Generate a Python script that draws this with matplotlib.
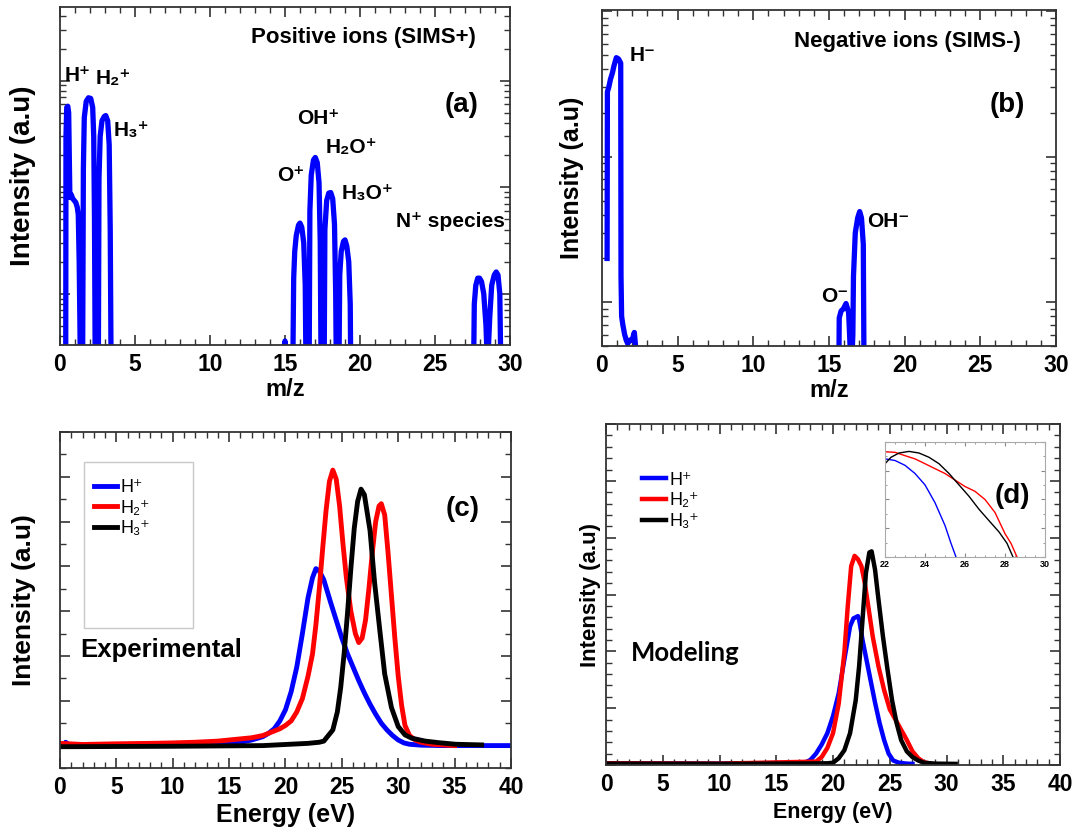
import matplotlib
matplotlib.use("Agg")
import matplotlib.pyplot as plt
from matplotlib.ticker import MultipleLocator, LogLocator, NullFormatter
from matplotlib.patches import Rectangle

plt.rcParams['font.family'] = ['Liberation Sans', 'DejaVu Sans']
plt.rcParams['font.weight'] = 'bold'

# ---- (a) positive ions SIMS+ (log intensity, a.u.)
a_mz = [0.30, 0.38, 0.40, 0.45, 0.52, 0.58, 0.62, 0.66, 0.75, 0.85, 0.95, 1.05, 1.15, 1.22, 1.28, 1.33, 1.38,
        1.50, 1.56, 1.62, 1.75, 1.90, 2.05, 2.18, 2.25, 2.30, 2.36,
        2.55, 2.60, 2.68, 2.80, 2.95, 3.05, 3.18, 3.28, 3.35, 3.42,
        14.9, 15.0, 15.1,
        15.5, 15.58, 15.65, 15.75, 15.9, 16.0, 16.12, 16.25, 16.35, 16.42,
        16.6, 16.66, 16.75, 16.9, 17.02, 17.15, 17.27, 17.35, 17.42,
        17.6, 17.66, 17.78, 17.92, 18.05, 18.18, 18.3, 18.38, 18.44,
        18.58, 18.65, 18.75, 18.9, 19.0, 19.12, 19.25, 19.35, 19.4,
        27.55, 27.62, 27.72, 27.85, 27.97, 28.1, 28.25, 28.4, 28.5,
        28.65, 28.78, 28.95, 29.08, 29.2, 29.32, 29.42, 30.0]
a_int = [1, 1, 300, 560, 575, 500, 200, 80, 85, 78, 75, 72, 65, 55, 20, 5, 1,
         1, 150, 450, 640, 690, 680, 560, 300, 50, 1,
         1, 120, 300, 420, 460, 470, 420, 250, 40, 1,
         1, 3.6, 1,
         1, 14, 25, 35, 44, 46, 42, 30, 12, 1,
         1, 60, 130, 180, 190, 170, 110, 30, 1,
         1, 40, 75, 88, 89, 78, 45, 10, 1,
         1, 15, 25, 31, 32, 28, 20, 8, 1,
         1, 8, 12, 14, 14, 13, 10, 5, 2,
         6, 12, 15, 16, 15, 10, 1, 1]

a_labels = ['H⁺', 'H₂⁺', 'H₃⁺', 'OH⁺', 'H₂O⁺', 'O⁺', 'H₃O⁺', 'N⁺ species']
a_label_x = [0.34, 2.37, 3.56, 15.8, 17.7, 14.5, 18.8, 22.4]
a_label_y = [1000, 930, 303, 390, 208, 115, 77, 42]

# ---- (b) negative ions SIMS-
b_mz = [0.34, 0.36, 0.45, 0.56, 0.70, 0.79, 0.95, 1.10, 1.24, 1.26, 1.30, 1.38, 1.50, 1.60, 1.70, 1.85, 2.00,
        2.14, 2.22, 2.30,
        15.65, 15.68, 15.80, 15.95, 16.13, 16.30, 16.38, 16.47,
        16.58, 16.62, 16.74, 16.90, 17.03, 17.15, 17.27, 17.32, 30.0]
b_int = [20, 280, 300, 340, 380, 420, 480, 470, 440, 15, 8, 7, 6, 5.5, 5.2, 5.5, 5.5,
         6.2, 5, 3,
         3, 7.8, 8.7, 9.0, 9.8, 8.5, 5.5, 3,
         6, 15, 30, 38, 42, 38, 25, 3, 3]

b_labels = ['H⁻', 'OH⁻', 'O⁻']
b_label_x = [1.8, 17.55, 14.5]
b_label_y = [452, 33, 10]

# ---- (c) experimental ion energy distributions
c_h1_e = [0.3, 0.5, 0.8, 1.2, 3, 6, 10, 13, 15, 16, 17, 18, 18.5, 19, 19.5, 20, 20.5, 21, 21.5, 22, 22.4, 22.7,
          23.0, 23.4, 24, 24.5, 25, 25.5, 26, 26.5, 27, 27.5, 28, 28.5, 29, 29.5, 30, 30.5, 31, 32, 34, 37, 40]
c_h1 = [0.0, 0.015, 0.005, 0.0, 0.0, 0.0, 0.003, 0.006, 0.01, 0.015, 0.025, 0.04, 0.055, 0.075, 0.11, 0.16, 0.24,
        0.35, 0.50, 0.66, 0.75, 0.79, 0.78, 0.74, 0.64, 0.56, 0.48, 0.41, 0.35, 0.29, 0.235, 0.185, 0.14, 0.10,
        0.07, 0.045, 0.025, 0.012, 0.006, 0.002, 0.0, 0.0, 0.0]
c_h2_e = [0, 2, 5, 8, 10, 12, 14, 16, 17, 18, 19, 19.5, 20, 20.5, 21, 21.5, 22, 22.4, 22.7, 23.0, 23.3, 23.6, 23.9,
          24.2, 24.5, 24.8, 25.1, 25.4, 25.8, 26.2, 26.5, 26.8, 27.1, 27.4, 27.7, 28.0, 28.3, 28.5, 28.8, 29.1,
          29.4, 29.7, 30.0, 30.3, 30.6, 31, 31.5, 32, 33, 35]
c_h2 = [0.01, 0.005, 0.008, 0.01, 0.012, 0.015, 0.02, 0.03, 0.035, 0.045, 0.065, 0.075, 0.09, 0.11, 0.15, 0.21,
        0.31, 0.41, 0.54, 0.70, 0.88, 1.05, 1.18, 1.23, 1.19, 1.07, 0.90, 0.75, 0.60, 0.50, 0.46, 0.48, 0.56,
        0.70, 0.86, 1.00, 1.07, 1.08, 1.03, 0.86, 0.67, 0.48, 0.31, 0.18, 0.09, 0.045, 0.025, 0.015, 0.006, 0.0]
c_h3_e = [0, 10, 18, 20, 22, 23, 23.4, 24.2, 24.6, 24.9, 25.2, 25.5, 25.8, 26.1, 26.4, 26.7, 27.0, 27.5, 27.9,
          28.4, 28.8, 29.4, 30.0, 30.6, 31.2, 32.4, 33.6, 35.1, 37.4]
c_h3 = [-0.005, -0.003, 0.0, 0.005, 0.01, 0.015, 0.02, 0.07, 0.15, 0.26, 0.41, 0.59, 0.79, 0.97, 1.09, 1.145,
        1.12, 0.96, 0.73, 0.50, 0.32, 0.17, 0.085, 0.048, 0.033, 0.02, 0.013, 0.006, 0.003]

# ---- (d) modeled ion energy distributions
d_h1_e = [0, 10, 17.5, 18, 18.5, 19, 19.5, 20, 20.5, 21, 21.5, 21.8, 22.2, 22.3, 22.6, 22.9, 23.3, 23.7, 24.1,
          24.5, 24.9, 25.3, 25.8, 26.5, 27]
d_h1 = [0.015, 0.012, 0.02, 0.044, 0.10, 0.18, 0.28, 0.43, 0.63, 0.93, 1.22, 1.29, 1.31, 1.28, 1.10, 0.95, 0.75,
        0.55, 0.37, 0.22, 0.10, 0.04, 0.02, 0.012, 0.01]
d_h2_e = [0, 10, 18.5, 19, 19.5, 20, 20.5, 21, 21.3, 21.6, 21.9, 22.2, 22.5, 22.8, 23.1, 23.5, 24, 24.5, 25,
          25.5, 26, 26.5, 27, 27.5, 28, 28.6]
d_h2 = [0.015, 0.012, 0.03, 0.07, 0.15, 0.28, 0.54, 0.99, 1.40, 1.75, 1.84, 1.81, 1.75, 1.60, 1.40, 1.13, 0.87,
        0.66, 0.49, 0.40, 0.31, 0.22, 0.12, 0.06, 0.025, 0.012]
d_h3_e = [0, 10, 19.5, 20, 20.5, 21, 21.5, 22, 22.3, 22.6, 22.9, 23.2, 23.4, 23.7, 24, 24.4, 24.8, 25.2, 25.6,
          26, 26.5, 27, 27.5, 28, 29, 30.8]
d_h3 = [0.012, 0.01, 0.015, 0.02, 0.06, 0.13, 0.28, 0.57, 0.87, 1.28, 1.69, 1.87, 1.88, 1.72, 1.46, 1.13, 0.84,
        0.57, 0.37, 0.22, 0.12, 0.07, 0.04, 0.02, 0.012, 0.01]

# ---- (d) inset, zoom on 22-30 eV
in_h1_e = [22.0, 22.5, 23.0, 23.5, 24.0, 24.5, 25.0, 25.3, 25.55]
in_h1 = [0.853, 0.839, 0.797, 0.726, 0.627, 0.472, 0.274, 0.119, 0.0]
in_h2_e = [22.0, 22.5, 23.0, 23.5, 24.0, 24.5, 25.0, 25.5, 26.0, 26.5, 27.0, 27.5, 28.0, 28.3, 28.6]
in_h2 = [0.915, 0.91, 0.881, 0.853, 0.811, 0.768, 0.726, 0.669, 0.613, 0.571, 0.5, 0.387, 0.203, 0.119, 0.0]
in_h3_e = [22.0, 22.3, 22.7, 23.2, 23.7, 24.2, 24.7, 25.2, 25.7, 26.2, 26.7, 27.2, 27.7, 28.1, 28.4]
in_h3 = [0.811, 0.867, 0.904, 0.918, 0.904, 0.867, 0.811, 0.726, 0.627, 0.528, 0.415, 0.316, 0.218, 0.119, 0.0]

ion_names = ['H⁺', 'H₂⁺', 'H₃⁺']
ion_colors = ['#0000ff', '#ff0000', '#000000']

spine_col = '#333333'


def style_axes(ax, tick_size=16.5):
    for s in ax.spines.values():
        s.set_color(spine_col)
        s.set_linewidth(1.3)
    ax.tick_params(which='both', direction='in', top=True, right=True, colors=spine_col,
                   labelcolor='black', labelsize=tick_size, pad=6)
    ax.tick_params(which='major', length=7, width=1.2)
    ax.tick_params(which='minor', length=4, width=1.0)
    ax.xaxis.set_minor_locator(MultipleLocator(1))
    ax.set_yticklabels([])
    ax.yaxis.set_minor_formatter(NullFormatter())


fig = plt.figure(figsize=(10.73, 8.30), dpi=100)

# (a)
ax_a = fig.add_axes([0.0559, 0.5843, 0.4194, 0.4072])
ax_a.plot(a_mz, a_int, color='#0000ff', lw=3.8)
ax_a.set_yscale('log')
ax_a.set_xlim(0, 30)
ax_a.set_ylim(3.3, 4900)
ax_a.xaxis.set_major_locator(MultipleLocator(5))
ax_a.yaxis.set_major_locator(LogLocator(base=10))
ax_a.yaxis.set_minor_locator(LogLocator(base=10, subs=range(2, 10)))
style_axes(ax_a)
ax_a.set_xlabel('m/z', fontsize=17, fontweight='bold')
ax_a.xaxis.set_label_coords(0.5, -0.098)
ax_a.set_ylabel('Intensity (a.u)', fontsize=20, fontweight='bold')
ax_a.yaxis.set_label_coords(-0.053, 0.5)
for lab, x, y in zip(a_labels, a_label_x, a_label_y):
    ax_a.text(x, y, lab, fontsize=15, fontweight='bold', ha='left', va='baseline')
ax_a.text(0.924, 0.911, 'Positive ions (SIMS+)', transform=ax_a.transAxes, fontsize=16,
          fontweight='bold', ha='right', va='center')
ax_a.text(0.929, 0.71, '(a)', transform=ax_a.transAxes, fontsize=20, fontweight='bold',
          ha='right', va='center')

# (b)
ax_b = fig.add_axes([0.561, 0.5831, 0.4231, 0.4048])
ax_b.plot(b_mz, b_int, color='#0000ff', lw=3.8)
ax_b.set_yscale('log')
ax_b.set_xlim(0, 30)
ax_b.set_ylim(5.0, 1020)
ax_b.xaxis.set_major_locator(MultipleLocator(5))
ax_b.yaxis.set_major_locator(LogLocator(base=10))
ax_b.yaxis.set_minor_locator(LogLocator(base=10, subs=range(2, 10)))
style_axes(ax_b)
ax_b.set_xlabel('m/z', fontsize=17, fontweight='bold')
ax_b.xaxis.set_label_coords(0.5, -0.098)
ax_b.set_ylabel('Intensity (a.u)', fontsize=18, fontweight='bold')
ax_b.yaxis.set_label_coords(-0.040, 0.5)
for lab, x, y in zip(b_labels, b_label_x, b_label_y):
    ax_b.text(x, y, lab, fontsize=15, fontweight='bold', ha='left', va='baseline')
ax_b.text(0.923, 0.905, 'Negative ions (SIMS-)', transform=ax_b.transAxes, fontsize=16,
          fontweight='bold', ha='right', va='center')
ax_b.text(0.932, 0.717, '(b)', transform=ax_b.transAxes, fontsize=20, fontweight='bold',
          ha='right', va='center')

# (c)
ax_c = fig.add_axes([0.0559, 0.0747, 0.4203, 0.4048])
for e, v, name, col in zip([c_h1_e, c_h2_e, c_h3_e], [c_h1, c_h2, c_h3], ion_names, ion_colors):
    ax_c.plot(e, v, color=col, lw=3.5, label=name)
ax_c.set_xlim(0, 40)
ax_c.set_ylim(-0.1, 1.4)
ax_c.xaxis.set_major_locator(MultipleLocator(5))
ax_c.yaxis.set_major_locator(MultipleLocator(0.2))
ax_c.yaxis.set_minor_locator(MultipleLocator(0.1))
style_axes(ax_c)
ax_c.set_xlabel('Energy (eV)', fontsize=18, fontweight='bold')
ax_c.xaxis.set_label_coords(0.5, -0.105)
ax_c.set_ylabel('Intensity (a.u)', fontsize=19, fontweight='bold')
ax_c.yaxis.set_label_coords(-0.053, 0.5)
ax_c.add_patch(Rectangle((0.053, 0.417), 0.242, 0.494, transform=ax_c.transAxes, fill=False,
                         edgecolor='#c8c8c8', lw=1.0))
ax_c.legend(loc='upper left', bbox_to_anchor=(0.075, 0.86), frameon=False,
            handlelength=1.3, handletextpad=0.2, labelspacing=0.2, borderaxespad=0, borderpad=0,
            prop={'weight': 'normal', 'size': 13})
ax_c.text(0.044, 0.351, 'Experimental', transform=ax_c.transAxes, fontsize=18.5, fontweight='bold',
          ha='left', va='center')
ax_c.text(0.931, 0.772, '(c)', transform=ax_c.transAxes, fontsize=20, fontweight='bold',
          ha='right', va='center')

# (d)
ax_d = fig.add_axes([0.5648, 0.0783, 0.4231, 0.4108])
for e, v, name, col in zip([d_h1_e, d_h2_e, d_h3_e], [d_h1, d_h2, d_h3], ion_names, ion_colors):
    ax_d.plot(e, v, color=col, lw=3.2, label=name)
ax_d.set_xlim(0, 40)
ax_d.set_ylim(0, 3.0)
ax_d.xaxis.set_major_locator(MultipleLocator(5))
ax_d.yaxis.set_major_locator(MultipleLocator(0.5))
ax_d.yaxis.set_minor_locator(MultipleLocator(0.1))
style_axes(ax_d)
ax_d.set_xlabel('Energy (eV)', fontsize=15.5, fontweight='bold')
ax_d.xaxis.set_label_coords(0.5, -0.108)
ax_d.set_ylabel('Intensity (a.u)', fontsize=16, fontweight='bold')
ax_d.yaxis.set_label_coords(-0.010, 0.5)
ax_d.legend(loc='upper left', bbox_to_anchor=(0.08, 0.86), frameon=False,
            handlelength=1.3, handletextpad=0.2, labelspacing=0.2, borderaxespad=0, borderpad=0,
            prop={'weight': 'normal', 'size': 13})
ax_d.text(0.055, 0.328, 'Modeling', transform=ax_d.transAxes, fontsize=18.5, fontweight='bold',
          family=['Lato', 'DejaVu Sans'], ha='left', va='center')

# (d) inset
ax_in = fig.add_axes([0.8248, 0.3289, 0.1491, 0.1386])
for e, v, col in zip([in_h1_e, in_h2_e, in_h3_e], [in_h1, in_h2, in_h3], ion_colors):
    ax_in.plot(e, v, color=col, lw=1.0)
ax_in.set_xlim(22, 30)
ax_in.set_ylim(0, 1.0)
ax_in.xaxis.set_major_locator(MultipleLocator(2))
ax_in.xaxis.set_minor_locator(MultipleLocator(0.5))
ax_in.yaxis.set_major_locator(MultipleLocator(0.25))
ax_in.yaxis.set_minor_locator(MultipleLocator(0.125))
ax_in.set_yticklabels([])
for s in ax_in.spines.values():
    s.set_color('#aaaaaa')
    s.set_linewidth(0.8)
ax_in.tick_params(which='both', direction='in', top=True, right=True, colors='#888888',
                  labelcolor='black', labelsize=6.5, pad=2)
ax_in.tick_params(which='major', length=3)
ax_in.tick_params(which='minor', length=1.5)
ax_in.text(0.906, 0.53, '(d)', transform=ax_in.transAxes, fontsize=20, fontweight='bold',
           ha='right', va='center')

fig.savefig('out.png', dpi=100)
